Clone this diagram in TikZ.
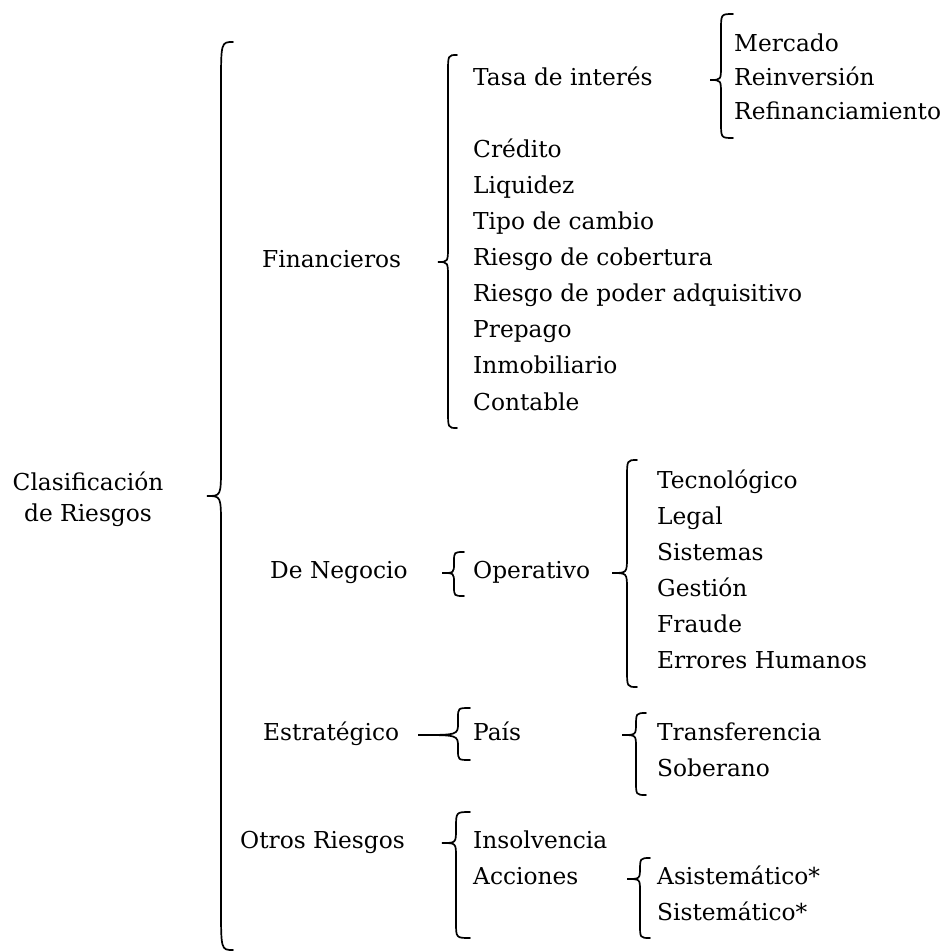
\documentclass[tikz,border=0pt]{standalone}
\usepackage{fontspec}
\setmainfont{DejaVu Serif}
\begin{document}
% curly brace: tip x, tip y, stem x, hook-end x, top y, bottom y, hook size, tip size
\newcommand\curlybrace[8]{%
  \draw[bracestroke] (#4,#5) .. controls (#3,#5) .. (#3,{#5+#7})
    -- (#3,{#2-#8}) .. controls (#3,#2) .. (#1,#2)
    .. controls (#3,#2) .. (#3,{#2+#8})
    -- (#3,{#6-#7}) .. controls (#3,#6) .. (#4,#6);}
\begin{tikzpicture}[x=1pt,y=-1pt,
  bracestroke/.style={line width=1.7pt,line cap=round},
  label/.style={anchor=west,inner sep=0pt,text height=1.1em,text depth=0.1em,
    font=\fontsize{23.3}{27}\selectfont},
  rootlabel/.style={align=center,inner sep=0pt,font=\fontsize{23.3}{31}\selectfont}]
\useasboundingbox (0,0) rectangle (945,951);

% root
\node[rootlabel] (root) at (88,499) {Clasificación\\de Riesgos};
\curlybrace{207}{496}{221}{233}{42}{950}{45}{30}

% first level
\node[label] (fin) at (262,262) {Financieros};
\node[label] (neg) at (270,573) {De Negocio};
\node[label] (est) at (263,735) {Estratégico};
\node[label] (otr) at (240,843) {Otros Riesgos};

% Financieros
\curlybrace{438}{262}{448}{457}{55}{428}{18}{16}
\node[label] (tasa) at (473,80) {Tasa de interés};
\node[label] (cre) at (473,152) {Crédito};
\node[label] (liq) at (473,188) {Liquidez};
\node[label] (tip) at (473,224) {Tipo de cambio};
\node[label] (cob) at (473,260) {Riesgo de cobertura};
\node[label] (pod) at (473,296) {Riesgo de poder adquisitivo};
\node[label] (pre) at (473,332) {Prepago};
\node[label] (inm) at (473,368) {Inmobiliario};
\node[label] (con) at (473,405) {Contable};

% Tasa de interés
\curlybrace{710}{80}{721}{733}{14}{138}{16}{14}
\node[label] (mer) at (734,46) {Mercado};
\node[label] (rei) at (734,80) {Reinversión};
\node[label] (ref) at (734,114) {Refinanciamiento};

% De Negocio
\curlybrace{442}{573}{454}{464}{552}{596}{10}{10}
\node[label] (ope) at (473,573) {Operativo};
\curlybrace{612}{573}{627}{637}{460}{687}{18}{16}
\node[label] (tec) at (657,483) {Tecnológico};
\node[label] (leg) at (657,519) {Legal};
\node[label] (sis) at (657,555) {Sistemas};
\node[label] (ges) at (657,591) {Gestión};
\node[label] (fra) at (657,627) {Fraude};
\node[label] (err) at (657,663) {Errores Humanos};

% Estratégico
\curlybrace{418}{735}{458}{470}{708}{760}{10}{12}
\node[label] (pai) at (473,735) {País};
\curlybrace{622}{735}{636}{646}{713}{795}{14}{12}
\node[label] (tra) at (657,735) {Transferencia};
\node[label] (sob) at (657,771) {Soberano};

% Otros Riesgos
\curlybrace{442}{843}{456}{470}{812}{938}{16}{14}
\node[label] (ins) at (473,843) {Insolvencia};
\node[label] (acc) at (473,879) {Acciones};
\curlybrace{627}{879}{640}{650}{858}{938}{14}{12}
\node[label] (asi) at (657,879) {Asistemático*};
\node[label] (sisb) at (657,915) {Sistemático*};
\end{tikzpicture}
\end{document}
